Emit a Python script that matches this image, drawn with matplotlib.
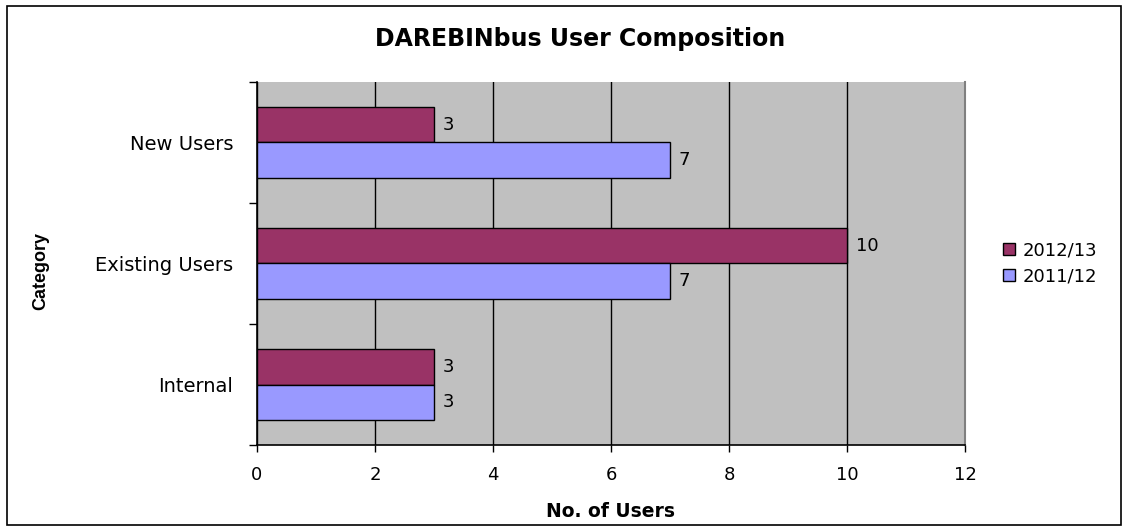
import numpy as np
import matplotlib
matplotlib.use("Agg")
import matplotlib.pyplot as plt
from matplotlib.patches import Rectangle
from matplotlib import font_manager

# the reference text is wide Arial-like; DejaVu Sans is the closest width
plt.rcParams["font.family"] = ["DejaVu Sans"]

# data
categories = ["Internal", "Existing Users", "New Users"]
users_2012 = [3, 10, 3]
users_2011 = [3, 7, 7]
series_labels = ["2012/13", "2011/12"]
x_ticks = [0, 2, 4, 6, 8, 10, 12]

C_2012 = "#993366"
C_2011 = "#9999FF"

installed = {f.name for f in font_manager.fontManager.ttflist}
if "Liberation Sans Narrow" in installed:
    cat_font, cat_size = ["Liberation Sans Narrow", "DejaVu Sans"], 16
else:
    cat_font, cat_size = ["Liberation Sans", "DejaVu Sans"], 13

fig = plt.figure(figsize=(11.28, 5.32), dpi=100)
ax = fig.add_axes([0.2278, 0.1635, 0.6277, 0.6824])
ax.set_facecolor("#C0C0C0")

# outer chart border
fig.patches.append(Rectangle((0.006, 0.013), 0.988, 0.975, transform=fig.transFigure,
                             fill=False, edgecolor="black", linewidth=1.2))

y = np.arange(len(categories))
h = 0.29
b1 = ax.barh(y + h / 2, users_2012, height=h, color=C_2012, edgecolor="black",
             linewidth=1.0, label=series_labels[0], zorder=3)
b2 = ax.barh(y - h / 2, users_2011, height=h, color=C_2011, edgecolor="black",
             linewidth=1.0, label=series_labels[1], zorder=3)

for bars, vals in ((b1, users_2012), (b2, users_2011)):
    for r, v in zip(bars, vals):
        ax.text(v + 0.15, r.get_y() + r.get_height() / 2, str(v), va="center",
                ha="left", fontsize=13)

ax.set_xlim(0, 12)
ax.set_ylim(-0.5, 2.5)
ax.set_xticks(x_ticks)
ax.set_xticklabels([str(t) for t in x_ticks], fontsize=13)
ax.set_yticks(y)
ax.set_yticklabels(categories, fontsize=14)
ax.set_yticks([-0.5, 0.5, 1.5, 2.5], minor=True)
ax.tick_params(axis="y", which="major", length=0, pad=17)
ax.tick_params(axis="y", which="minor", length=6, direction="out", width=1)
ax.tick_params(axis="x", length=5, direction="out", width=1, pad=10)
ax.xaxis.grid(True, color="black", linewidth=1.0, zorder=1)
ax.set_axisbelow(True)

ax.spines["top"].set_visible(False)
ax.spines["right"].set_color("#808080")
ax.spines["right"].set_linewidth(1.5)
ax.spines["left"].set_linewidth(1.2)
ax.spines["bottom"].set_linewidth(1.2)

ax.set_xlabel("No. of Users", fontsize=13.5, fontweight="bold")
ax.xaxis.set_label_coords(0.5, -0.182)
ax.xaxis.label.set_va("center")
ax.set_ylabel("Category", fontsize=cat_size, fontweight="bold", family=cat_font)
ax.yaxis.set_label_coords(-0.305, 0.48)
ax.yaxis.label.set_va("center")
fig.text(0.514, 0.927, "DAREBINbus User Composition", ha="center", va="center",
         fontsize=17, fontweight="bold")

fig.legend(handles=[b1, b2], labels=series_labels, loc="center left",
           bbox_to_anchor=(0.875, 0.505), frameon=False, fontsize=13,
           handlelength=0.65, handleheight=0.6, handletextpad=0.45, labelspacing=0.45)

fig.savefig("out.png", dpi=100)
